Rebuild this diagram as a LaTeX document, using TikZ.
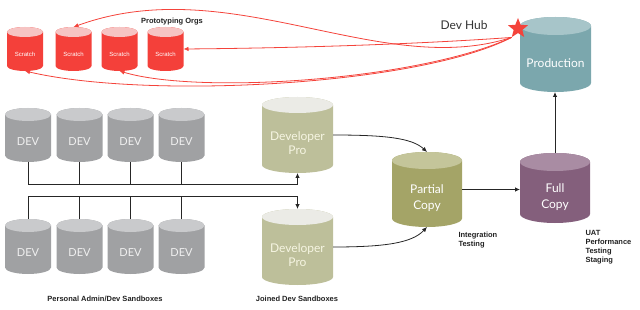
\documentclass[tikz,border=0pt]{standalone}
\usepackage{fontspec}
\setmainfont{Liberation Sans}
\newfontfamily\latofont{Lato}
\usetikzlibrary{shapes.geometric,arrows.meta}
\definecolor{scrbody}{HTML}{F4403A}
\definecolor{scrtop}{HTML}{F6C4C3}
\definecolor{devbody}{HTML}{A0A1A3}
\definecolor{devtop}{HTML}{C9CACC}
\definecolor{dprbody}{HTML}{BDBF9A}
\definecolor{dprtop}{HTML}{EBEBE6}
\definecolor{pcbody}{HTML}{A4A467}
\definecolor{pctop}{HTML}{C4C59A}
\definecolor{fcbody}{HTML}{845F7C}
\definecolor{fctop}{HTML}{A98CA3}
\definecolor{prbody}{HTML}{7BA7AD}
\definecolor{prtop}{HTML}{A7C5C9}
\definecolor{redc}{HTML}{F4433B}
\definecolor{labc}{HTML}{222222}
\tikzset{
  cylbox/.style={draw=none,inner sep=0pt,outer sep=0pt},
  scrtext/.style={text=white,font=\fontsize{6}{7}\selectfont},
  devtext/.style={text=white!94!black,font=\latofont\fontsize{11}{13}\selectfont},
  dprtext/.style={text=white!92!olive,align=center,font=\latofont\fontsize{12}{14.5}\selectfont},
  pctext/.style={text=white,align=center,font=\latofont\fontsize{12}{16}\selectfont},
  fctext/.style={text=white,align=center,font=\latofont\fontsize{12}{16}\selectfont},
  prtext/.style={text=white,font=\latofont\fontsize{12}{14}\selectfont},
  lab/.style={text=labc,font=\bfseries\fontsize{7.5}{9}\selectfont},
  conn/.style={draw=black!85,line width=0.8pt},
  arr/.style={-{Latex[length=5pt,width=4.5pt]}},
  redarr/.style={draw=redc,line width=0.8pt,-{Latex[length=5pt,width=4.5pt]}},
}
% name, cx, cy (px, down), w, h, ry, kind, text
\newcommand{\mycyl}[8]{%
  \node[cylbox,minimum width=#4pt,minimum height=#5pt] (#1) at (#2,-#3) {};
  \fill[#7body] ([yshift=-#6pt]#1.north west) -- ([yshift=#6pt]#1.south west)
    arc[start angle=180,end angle=360,x radius=#4pt/2,y radius=#6pt]
    -- ([yshift=-#6pt]#1.north east)
    arc[start angle=0,end angle=180,x radius=#4pt/2,y radius=#6pt] -- cycle;
  \fill[#7top] ([yshift=-#6pt]#1.north) ellipse[x radius=#4pt/2,y radius=#6pt];
  \node[#7text] (#1t) at ([yshift=-#6pt]#1.center) {#8};
}
\begin{document}
\begin{tikzpicture}[x=1pt,y=1pt]
\useasboundingbox (0,0) rectangle (640,-310);
% Scratch orgs
\mycyl{s1}{25}{49}{36}{44}{5}{scr}{Scratch}
\mycyl{s2}{73.5}{49}{36}{44}{5}{scr}{Scratch}
\mycyl{s3}{119.5}{49}{36}{44}{5}{scr}{Scratch}
\mycyl{s4}{165.5}{49}{36}{44}{5}{scr}{Scratch}
\node[lab] (proto) at (172,-22) {Prototyping Orgs};
% DEV rows
\mycyl{d1}{28}{135}{46}{54}{6.5}{dev}{DEV}
\mycyl{d2}{79.5}{135}{46}{54}{6.5}{dev}{DEV}
\mycyl{d3}{130.5}{135}{46}{54}{6.5}{dev}{DEV}
\mycyl{d4}{181.5}{135}{46}{54}{6.5}{dev}{DEV}
\mycyl{e1}{28}{246.5}{46}{55}{6.5}{dev}{DEV}
\mycyl{e2}{79.5}{246.5}{46}{55}{6.5}{dev}{DEV}
\mycyl{e3}{130.5}{246.5}{46}{55}{6.5}{dev}{DEV}
\mycyl{e4}{181.5}{246.5}{46}{55}{6.5}{dev}{DEV}
% Developer Pro
\mycyl{dp1}{297.5}{135}{71}{76}{8}{dpr}{Developer\\Pro}
\mycyl{dp2}{297.5}{247}{71}{76}{8}{dpr}{Developer\\Pro}
% Partial, Full, Production
\mycyl{pc}{427}{189.5}{70}{75}{8.5}{pc}{Partial\\Copy}
\mycyl{fc}{555}{188}{70}{70}{9}{fc}{Full\\Copy}
\mycyl{pr}{555.5}{54.5}{71}{75}{9}{pr}{Production}
% labels
\node[text=black!80,font=\latofont\fontsize{12}{14}\selectfont] (devhub) at (464,-25) {Dev Hub};
\node[lab,anchor=west,align=left] (integ) at (455,-240.5) {Integration\\Testing};
\node[lab,anchor=west,align=left] (uat) at (582,-247.5) {UAT\\Performance\\Testing\\Staging};
\node[lab] (personal) at (105,-299) {Personal Admin/Dev Sandboxes};
\node[lab] (joined) at (297,-299) {Joined Dev Sandboxes};
% buses
\coordinate (busA) at (0,-184);
\coordinate (busB) at (0,-196);
\draw[conn,arr] (d1.south) |- (dp1.south |- busA) -- (dp1.south);
\draw[conn] (d2.south) -- (d2.south |- busA);
\draw[conn] (d3.south) -- (d3.south |- busA);
\draw[conn] (d4.south) -- (d4.south |- busA);
\draw[conn,arr] (e1.north) |- (dp2.north |- busB) -- (dp2.north);
\draw[conn] (e2.north) -- (e2.north |- busB);
\draw[conn] (e3.north) -- (e3.north |- busB);
\draw[conn] (e4.north) -- (e4.north |- busB);
% flow arrows
\draw[conn,arr] (dp1.east) .. controls (385,-135) and (412,-138) .. (pc.north);
\draw[conn,arr] (dp2.east) .. controls (385,-247) and (412,-243) .. (pc.south);
\draw[conn,arr] (pc.east) -- (pc.east -| fc.west);
\draw[conn,arr] (fc.north) -- (fc.north |- pr.south);
% Dev Hub star and red arrows
\node[star,star points=5,star point ratio=2.3,fill=redc,minimum size=21pt,inner sep=0pt] (hub) at (518,-28.5) {};
\draw[redarr] (hub.outer point 3) .. controls (380,-80) and (230,30) .. (s2.north);
\draw[redarr] (hub.outer point 3) .. controls (420,-44) and (300,-48) .. (s4.east);
\draw[redarr] (hub.outer point 3) .. controls (420,-80) and (200,-95) .. (s3.south);
\draw[redarr] (hub.outer point 3) .. controls (420,-85) and (150,-100) .. (s1.south);
\end{tikzpicture}
\end{document}
